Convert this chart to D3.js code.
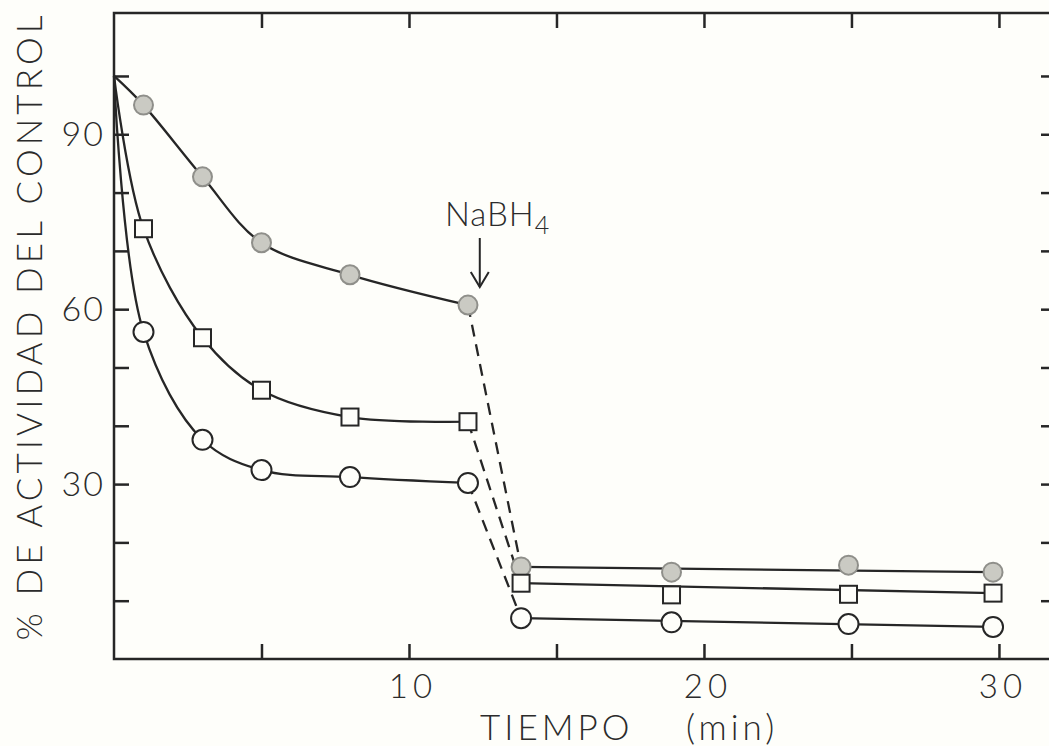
<!DOCTYPE html>
<html>
<head>
<meta charset="utf-8">
<script src="https://cdn.jsdelivr.net/npm/d3@7"></script>
<style>
  html, body { margin: 0; padding: 0; background: #fefefa; }
  svg { display: block; }
  text { font-family: "Lato", "Liberation Sans", Arial, sans-serif; font-weight: 300; fill: #2b2b2b; }
</style>
</head>
<body>
<div id="box"></div>
<script>
// time points (min) before and after NaBH4
var timesPre = [0, 1, 3, 5, 8, 12];
var timesPost = [13.8, 18.9, 24.9, 29.8];

// % activity of control, three series
var filledPre = [100, 95.0, 82.7, 71.4, 65.9, 60.7];
var squarePre = [100, 73.8, 55.1, 46.1, 41.5, 40.7];
var openPre   = [100, 56.1, 37.6, 32.4, 31.2, 30.2];
var filledPost = [15.8, 14.9, 16.1, 14.9];
var squarePost = [13.0, 11.0, 11.1, 11.3];
var openPost   = [7.0, 6.3, 6.0, 5.5];

var xTicks = [5, 10, 15, 20, 25, 30];
var xLabels = [10, 20, 30];
var yTicks = [10, 20, 30, 40, 50, 60, 70, 80, 90, 100];
var yLabels = [30, 60, 90];
var arrowTime = 12.4;

var width = 1049, height = 746;
var svg = d3.select("#box").append("svg")
    .attr("width", width)
    .attr("height", height);

var x = d3.scaleLinear().domain([0, 31.9]).range([114, 1055]);
var y = d3.scaleLinear().domain([0, 110.8]).range([659, 13]);
var ink = "#262626";

// frame
svg.append("rect")
   .attr("x", x(0)).attr("y", y(110.8))
   .attr("width", x(31.9) - x(0)).attr("height", y(0) - y(110.8))
   .style("fill", "none").style("stroke", ink).style("stroke-width", 2.5);

// inward ticks on all four sides
var axB = d3.axisBottom(x).tickValues(xTicks).tickSize(-15).tickFormat("");
var axT = d3.axisTop(x).tickValues(xTicks).tickSize(-15).tickFormat("");
var axL = d3.axisLeft(y).tickValues(yTicks).tickSize(-15).tickFormat("");
var axR = d3.axisRight(y).tickValues(yTicks).tickSize(-14).tickFormat("");
svg.append("g").attr("transform", "translate(0," + y(0) + ")").call(axB);
svg.append("g").attr("transform", "translate(0," + y(110.8) + ")").call(axT);
svg.append("g").attr("transform", "translate(" + x(0) + ",0)").call(axL);
svg.append("g").attr("transform", "translate(" + x(31.9) + ",0)").call(axR);
svg.selectAll(".domain").remove();
svg.selectAll(".tick line").style("stroke", ink).style("stroke-width", 2.5);

// tick labels
svg.selectAll(".ylab").data(yLabels).enter().append("text")
   .attr("x", 105).attr("y", function(d){ return y(d) + 12; })
   .attr("text-anchor", "end")
   .attr("letter-spacing", 2)
   .style("font-size", "34px")
   .text(function(d){ return d; });
svg.selectAll(".xlab").data(xLabels).enter().append("text")
   .attr("x", function(d){ return x(d) + 4; }).attr("y", 698)
   .attr("text-anchor", "middle")
   .attr("letter-spacing", 5)
   .style("font-size", "33px")
   .text(function(d){ return d; });

// axis titles
var xt = svg.append("text").attr("y", 740).style("font-size", "35px");
xt.append("tspan").attr("x", 480).attr("letter-spacing", 4).text("TIEMPO");
xt.append("tspan").attr("x", 686).attr("letter-spacing", 4).text("(min)");

svg.append("text")
   .attr("transform", "translate(42,328) rotate(-90)")
   .attr("text-anchor", "middle")
   .attr("textLength", 625)
   .attr("lengthAdjust", "spacing")
   .style("font-size", "35px")
   .text("% DE ACTIVIDAD DEL CONTROL");

// NaBH4 annotation
var lab = svg.append("text").attr("x", 445).attr("y", 226).style("font-size", "33px");
lab.append("tspan").attr("letter-spacing", 1).text("NaBH");
lab.append("tspan").attr("dy", 8).style("font-size", "25px").text("4");
var ax = x(arrowTime);
svg.append("line").attr("x1", ax).attr("x2", ax).attr("y1", 238).attr("y2", 287)
   .style("stroke", ink).style("stroke-width", 2);
svg.append("path").attr("d", "M" + (ax - 9) + ",272L" + ax + ",287L" + (ax + 9) + ",272")
   .style("fill", "none").style("stroke", ink).style("stroke-width", 2);

var series = [
  {pre: filledPre, post: filledPost, shape: "filled"},
  {pre: squarePre, post: squarePost, shape: "square"},
  {pre: openPre,   post: openPost,   shape: "open"}
];

var curve = d3.line()
    .x(function(d){ return x(d[0]); })
    .y(function(d){ return y(d[1]); })
    .curve(d3.curveCatmullRom.alpha(0.5));
var straight = d3.line()
    .x(function(d){ return x(d[0]); })
    .y(function(d){ return y(d[1]); });

series.forEach(function(s) {
  var pre = timesPre.map(function(t, i){ return [t, s.pre[i]]; });
  var post = timesPost.map(function(t, i){ return [t, s.post[i]]; });
  svg.append("path").attr("d", curve(pre))
     .style("fill", "none").style("stroke", ink).style("stroke-width", 2.3);
  // fitted line after NaBH4
  svg.append("path").attr("d", straight([post[0], post[post.length - 1]]))
     .style("fill", "none").style("stroke", ink).style("stroke-width", 2.3);
  // dashed drop
  svg.append("path").attr("d", straight([pre[pre.length - 1], post[0]]))
     .style("fill", "none").style("stroke", ink).style("stroke-width", 2.3)
     .style("stroke-dasharray", "12,8");
});

// markers on top
series.forEach(function(s) {
  var pts = timesPre.slice(1).map(function(t, i){ return [t, s.pre[i + 1]]; })
      .concat(timesPost.map(function(t, i){ return [t, s.post[i]]; }));
  var g = svg.append("g");
  if (s.shape == "square") {
    g.selectAll("rect").data(pts).enter().append("rect")
     .attr("x", function(d){ return x(d[0]) - 8.5; })
     .attr("y", function(d){ return y(d[1]) - 8.5; })
     .attr("width", 17).attr("height", 17)
     .style("fill", "#fefefa").style("stroke", ink).style("stroke-width", 2);
  } else {
    g.selectAll("circle").data(pts).enter().append("circle")
     .attr("cx", function(d){ return x(d[0]); })
     .attr("cy", function(d){ return y(d[1]); })
     .attr("r", s.shape == "filled" ? 9.5 : 10)
     .style("fill", s.shape == "filled" ? "#cacac3" : "#fefefa")
     .style("stroke", s.shape == "filled" ? "#8f8f8a" : ink)
     .style("stroke-width", 2);
  }
});
</script>
</body>
</html>
